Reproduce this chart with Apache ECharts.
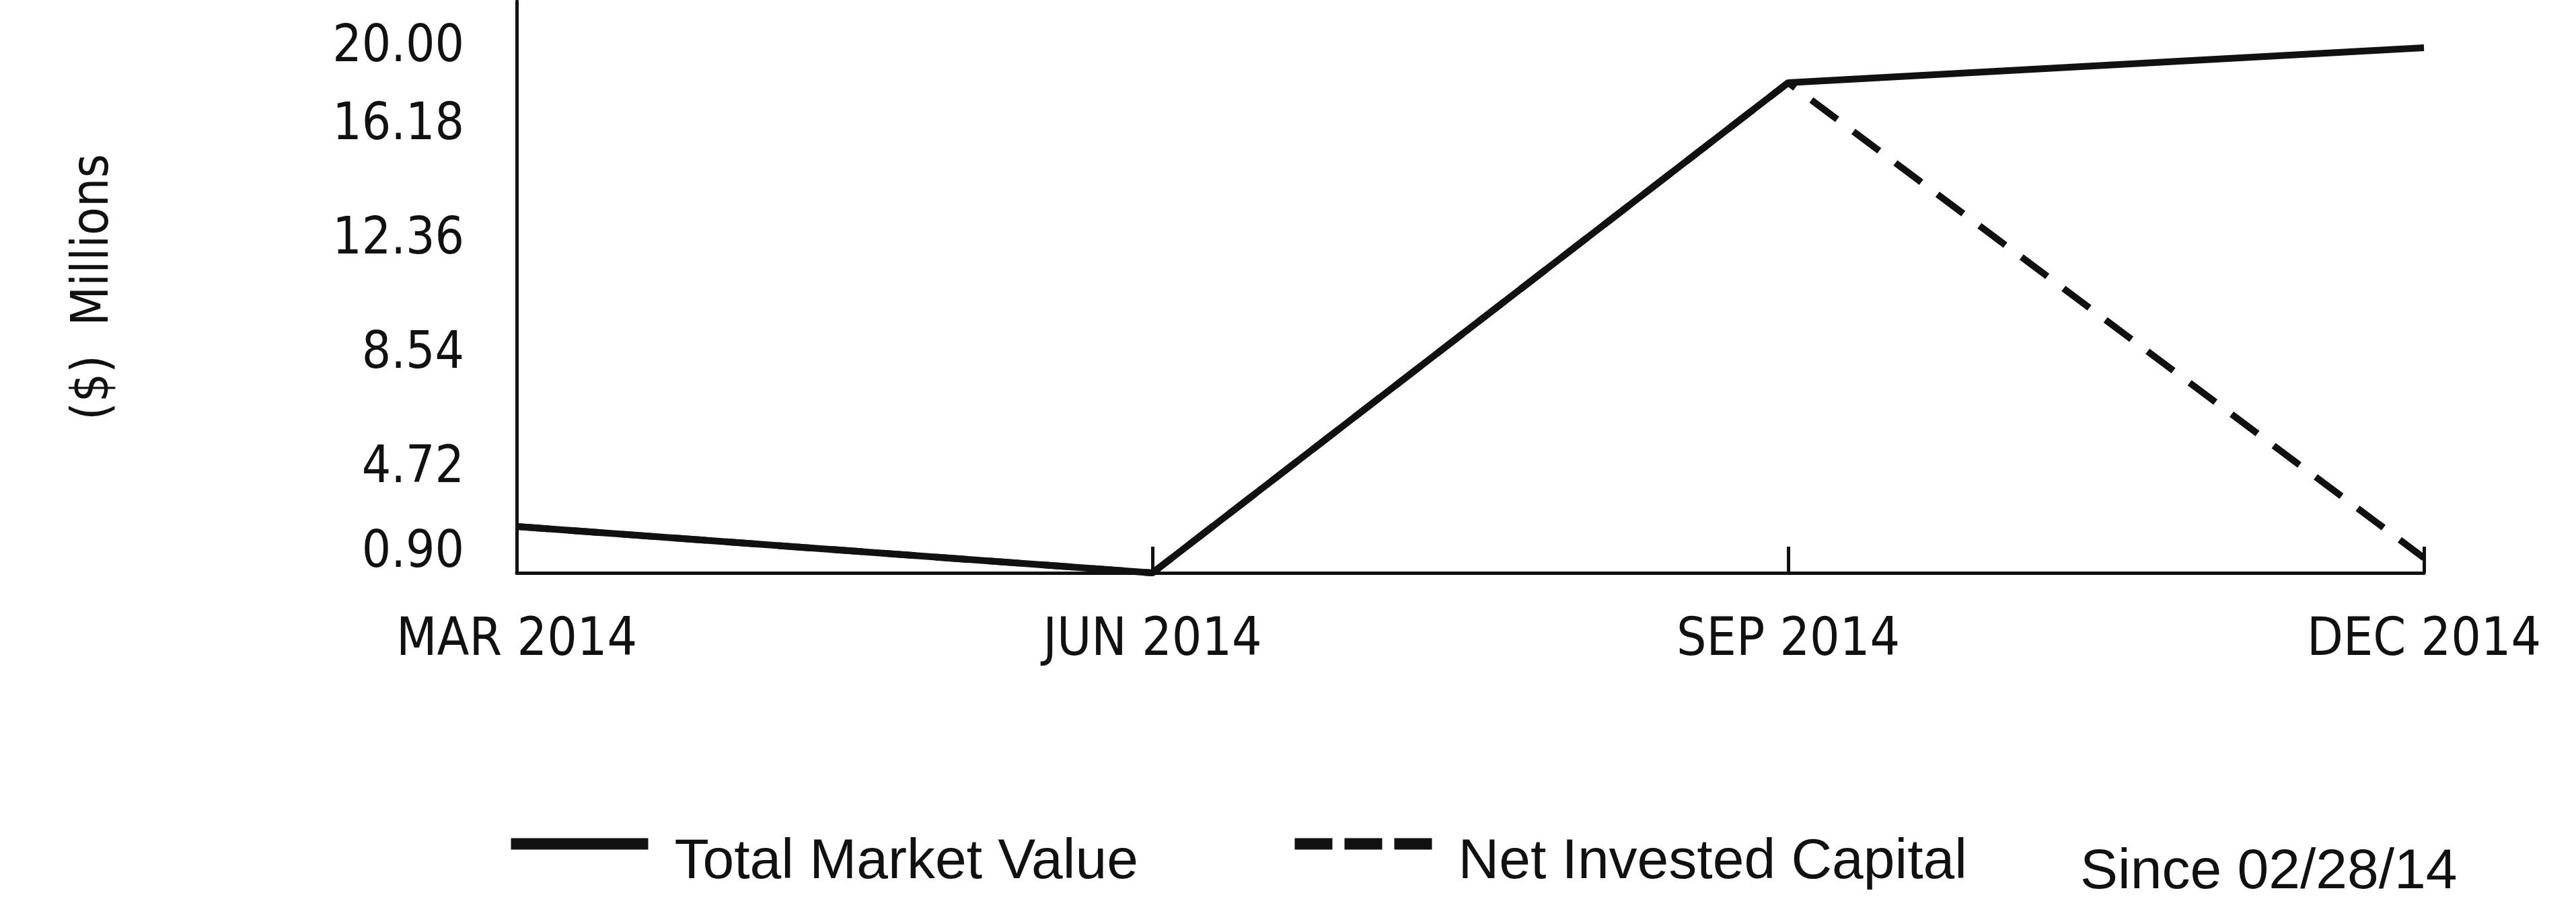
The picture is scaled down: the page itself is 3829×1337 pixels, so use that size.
<!DOCTYPE html>
<html>
<head>
<meta charset="utf-8">
<script src="https://cdn.jsdelivr.net/npm/echarts@6.0.0/dist/echarts.min.js"></script>
<style>
  html, body { margin: 0; padding: 0; background: #fff; }
  #chart { width: 3829px; height: 1337px; }
</style>
</head>
<body>
<div id="chart"></div>
<script>
// quarter-end labels on the x axis
const CATEGORIES = ['MAR 2014', 'JUN 2014', 'SEP 2014', 'DEC 2014']

// values in $ millions
const TOTAL_MARKET_VALUE   = [2.45, 0.90, 17.28, 18.45]
const NET_INVESTED_CAPITAL = [2.45, 0.90, 17.28, 1.40]

// the axis ticks as printed (min to max in 5 equal steps)
const Y_TICKS = [0.90, 4.72, 8.54, 12.36, 16.18, 20.00]

const NARROW = "'Liberation Sans Narrow', 'DejaVu Sans Condensed', 'Liberation Sans', sans-serif"
const SANS   = "'Liberation Sans', Arial, sans-serif"
const INK    = '#111'

const chart = echarts.init(document.getElementById('chart'), null, { renderer: 'canvas' })

// printed chart nudges the end labels inward, the rest sit a bit low
function yLabel(value) {
  const txt = value.toFixed(2)
  if (Math.abs(value - Y_TICKS[0]) < 1e-6) return `{bot|${txt}}`
  if (Math.abs(value - Y_TICKS[Y_TICKS.length - 1]) < 1e-6) return `{top|${txt}}`
  return `{mid|${txt}}`
}

const labelBase = { fontFamily: NARROW, fontSize: 76, color: INK }

function legendBlock(name, left, dash) {
  return {
    data: [name],
    left,
    top: 1234,
    itemWidth: 204,
    itemHeight: 40,
    selectedMode: false,
    itemStyle: { opacity: 0 },
    lineStyle: dash ? { width: 17, type: dash } : { width: 17 },
    formatter: (n) => `{t|${n}}`,
    textStyle: {
      rich: {
        t: { fontFamily: SANS, fontSize: 84, color: INK, padding: [56, 0, 0, 34] },
      },
    },
  }
}

const option = {
  animation: false,
  backgroundColor: '#fff',
  grid: {
    left: 768,
    right: 226,
    top: 2,
    bottom: 485,
  },
  xAxis: {
    type: 'category',
    data: CATEGORIES,
    boundaryGap: false,
    axisLine: { lineStyle: { color: INK, width: 5 } },
    axisTick: {
      show: true,
      inside: true,
      length: 39,
      interval: 0,
      lineStyle: { color: INK, width: 5 },
    },
    axisLabel: {
      ...labelBase,
      fontSize: 78,
      margin: 63,
      interval: 0,
    },
    splitLine: { show: false },
  },
  yAxis: {
    type: 'value',
    min: Y_TICKS[0],
    max: Y_TICKS[Y_TICKS.length - 1],
    name: '($)  Millions',
    nameLocation: 'middle',
    nameGap: 590,
    nameTextStyle: { fontFamily: NARROW, fontSize: 76, color: INK },
    axisLine: { show: true, lineStyle: { color: INK, width: 5 } },
    axisTick: { show: false },
    splitLine: { show: false },
    axisLabel: {
      customValues: Y_TICKS,
      margin: 78,
      formatter: yLabel,
      rich: {
        top: { ...labelBase, padding: [138, 0, 0, 0] },
        mid: { ...labelBase, padding: [31, 0, 0, 0] },
        bot: { ...labelBase, padding: [0, 0, 58, 0] },
      },
    },
  },
  legend: [
    legendBlock('Total Market Value', 746, null),
    legendBlock('Net Invested Capital', 1911, [56, 18]),
  ],
  graphic: [
    {
      type: 'text',
      x: 3092,
      y: 1298,
      style: {
        text: 'Since 02/28/14',
        font: `84px ${SANS}`,
        fill: INK,
        verticalAlign: 'middle',
      },
    },
  ],
  series: [
    {
      name: 'Net Invested Capital',
      type: 'line',
      data: NET_INVESTED_CAPITAL,
      symbol: 'none',
      clip: false,
      z: 2,
      color: INK,
      lineStyle: { color: INK, width: 10, type: [48, 30] },
    },
    {
      name: 'Total Market Value',
      type: 'line',
      data: TOTAL_MARKET_VALUE,
      symbol: 'none',
      clip: false,
      z: 3,
      color: INK,
      lineStyle: { color: INK, width: 10 },
    },
  ],
}

chart.setOption(option)
</script>
</body>
</html>
